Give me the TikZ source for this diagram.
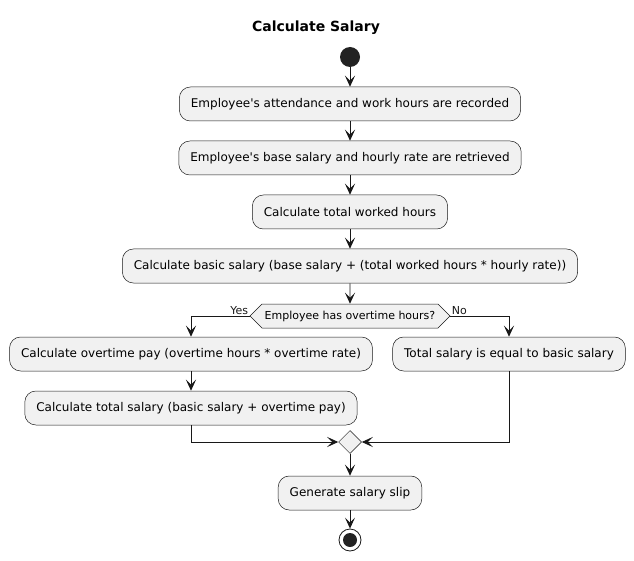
\documentclass[tikz,border=0pt]{standalone}
\usepackage{fontspec}
\setmainfont{DejaVu Sans}
\usetikzlibrary{arrows.meta,positioning,shapes.geometric,shapes.symbols}
\definecolor{actfill}{HTML}{F1F1F1}
\definecolor{actline}{HTML}{181818}
\definecolor{dot}{HTML}{222222}

\begin{document}
\begin{tikzpicture}[x=1pt,y=-1pt,>={Stealth[length=11pt,width=10pt,inset=5pt]},
   line width=0.8pt, draw=actline,
   act/.style={draw=actline, fill=actfill, rounded corners=11pt, line width=0.5pt,
      minimum height=34pt, inner xsep=11.5pt, font=\fontsize{12}{14}\selectfont},
   flow/.style={->, actline, line width=0.9pt}]
   \useasboundingbox (0,0) rectangle (634,561);
   \node[font=\bfseries\fontsize{14}{16}\selectfont] (title) at (316,28) {Calculate Salary};
   \node[circle, fill=dot, minimum size=20pt, inner sep=0pt] (start) at (350,57) {};
   \node[act] (rec) at (350,104) {Employee\textquotesingle s attendance and work hours are recorded};
   \node[act] (ret) at (350,158) {Employee\textquotesingle s base salary and hourly rate are retrieved};
   \node[act] (hrs) at (350,212) {Calculate total worked hours};
   \node[act] (basic) at (350,266) {Calculate basic salary (base salary + (total worked hours * hourly rate))};
   \node[signal, signal to=west and east, signal pointer angle=90, draw=actline, fill=actfill,
      line width=0.5pt, minimum width=200pt, minimum height=24pt, inner sep=1pt,
      font=\fontsize{11}{13}\selectfont] (dec) at (350,316) {Employee has overtime hours?};
   \node[act] (otpay) at (191,354) {Calculate overtime pay (overtime hours * overtime rate)};
   \node[act] (total) at (191,408) {Calculate total salary (basic salary + overtime pay)};
   \node[act] (equal) at (509,354) {Total salary is equal to basic salary};
   \node[diamond, draw=actline, fill=actfill, line width=0.5pt, minimum size=23pt, inner sep=0pt] (merge) at (350,442) {};
   \node[act] (slip) at (350,493) {Generate salary slip};
   \node[circle, draw=actline, line width=0.8pt, minimum size=22pt, inner sep=0pt] (stop) at (350,540) {};
   \node[circle, fill=dot, minimum size=14pt, inner sep=0pt] (stopdot) at (350,540) {};
   % main flow
   \draw[flow] (start) -- (rec);
   \draw[flow] (rec) -- (ret);
   \draw[flow] (ret) -- (hrs);
   \draw[flow] (hrs) -- (basic);
   \draw[flow] (basic) -- (dec);
   % branches
   \draw[flow] (dec.west) -| node[pos=0, above left, inner sep=1pt, font=\fontsize{11}{13}\selectfont] {Yes} (otpay);
   \draw[flow] (dec.east) -| node[pos=0, above right, inner sep=1pt, font=\fontsize{11}{13}\selectfont] {No} (equal);
   \draw[flow] (otpay) -- (total);
   \draw[flow] (total) |- (merge.west);
   \draw[flow] (equal) |- (merge.east);
   \draw[flow] (merge) -- (slip);
   \draw[flow] (slip) -- (stop);
\end{tikzpicture}
\end{document}
